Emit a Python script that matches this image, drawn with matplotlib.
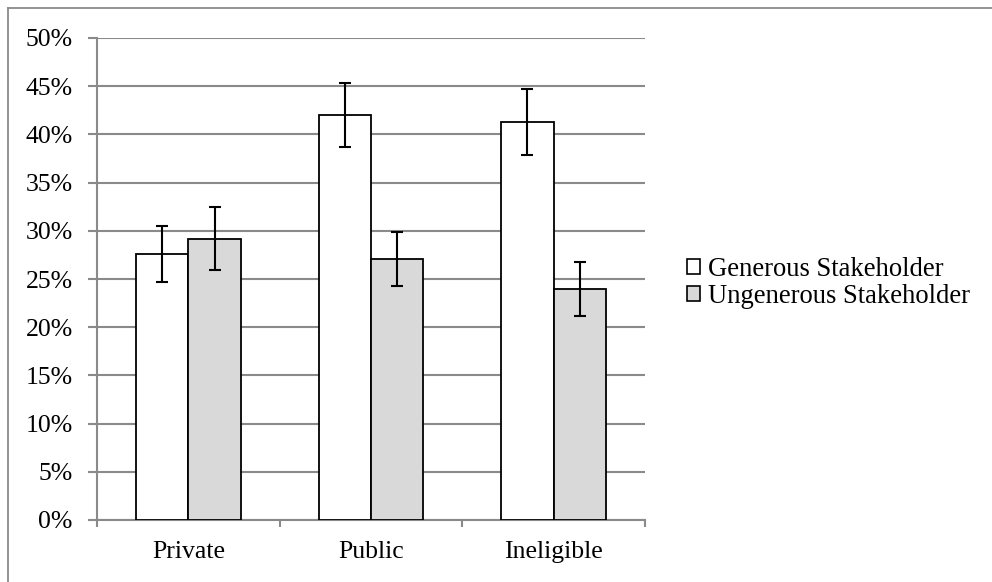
import numpy as np
import matplotlib.pyplot as plt
from matplotlib.lines import Line2D
from matplotlib.patches import Patch

categories = ['Private', 'Public', 'Ineligible']
generous = [27.6, 42.0, 41.3]
generous_err = [2.9, 3.3, 3.4]
ungenerous = [29.2, 27.1, 24.0]
ungenerous_err = [3.3, 2.8, 2.8]
series_names = ['Generous Stakeholder', 'Ungenerous Stakeholder']
yticks = np.arange(0, 51, 5)

plt.rcParams['font.family'] = ['Liberation Serif', 'DejaVu Serif']
fs = 18.5

fig = plt.figure(figsize=(9.92, 5.82), dpi=100)
ax = fig.add_axes([97 / 992, 62 / 582, 548 / 992, 482 / 582])

grid_c = '#8a8a8a'
x = np.arange(len(categories))
w = 0.287
err_kw = dict(ecolor='black', elinewidth=1.5, capsize=4.5, capthick=1.5)
ax.bar(x - w / 2, generous, w, yerr=generous_err, color='white',
       edgecolor='black', linewidth=1.3, error_kw=err_kw, zorder=3)
ax.bar(x + w / 2, ungenerous, w, yerr=ungenerous_err, color='#d9d9d9',
       edgecolor='black', linewidth=1.3, error_kw=err_kw, zorder=3)

ax.set_xlim(-0.5, 2.5)
ax.set_ylim(0, 50)
ax.set_yticks(yticks)
ax.set_yticklabels([f'{v}%' for v in yticks], fontsize=fs)
ax.yaxis.grid(True, color=grid_c, linewidth=1.5, zorder=0)
ax.set_axisbelow(True)

ax.set_xticks(x)
ax.set_xticklabels(categories, fontsize=fs)
ax.tick_params(axis='x', length=0, pad=15)
ax.set_xticks([-0.5, 0.5, 1.5, 2.5], minor=True)
ax.tick_params(axis='x', which='minor', length=5, width=1.5, color=grid_c)
ax.tick_params(axis='y', length=6.5, width=1.5, color=grid_c, pad=11)

for s in ['top', 'right']:
    ax.spines[s].set_visible(False)
for s in ['left', 'bottom']:
    ax.spines[s].set_color(grid_c)
    ax.spines[s].set_linewidth(1.5)

handles = [Patch(facecolor='white', edgecolor='black', linewidth=1.2),
           Patch(facecolor='#d9d9d9', edgecolor='black', linewidth=1.2)]
fig.legend(handles, series_names, loc='center left',
           bbox_to_anchor=(687 / 992, 1 - 283 / 582), frameon=False,
           fontsize=19.2, handlelength=0.5, handleheight=0.5,
           handletextpad=0.3, labelspacing=0.08, borderpad=0,
           borderaxespad=0)

# outer chart border (top and left only visible)
fig.add_artist(Line2D([8 / 992, 1], [1 - 8 / 582, 1 - 8 / 582],
                      transform=fig.transFigure, color=grid_c, linewidth=1.3))
fig.add_artist(Line2D([8 / 992, 8 / 992], [0, 1 - 8 / 582],
                      transform=fig.transFigure, color=grid_c, linewidth=1.3))

fig.savefig('out.png', dpi=100)
